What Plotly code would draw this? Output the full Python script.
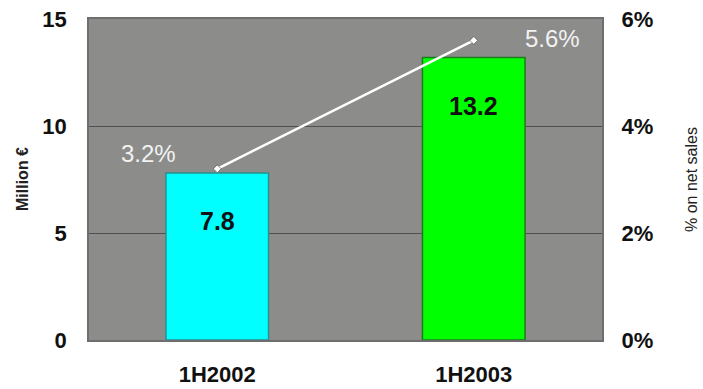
import plotly.graph_objects as go

categories = ["1H2002", "1H2003"]
sales_values = [7.8, 13.2]
pct_values = [3.2, 5.6]
bar_colors = ["#00ffff", "#00ff00"]
bar_edges = ["#2a8f8f", "#1f7a1f"]
y_ticks = [0, 5, 10, 15]
y2_ticks = [0, 2, 4, 6]
y2_labels = ["0%", "2%", "4%", "6%"]

fig = go.Figure()
fig.add_trace(go.Bar(
    x=categories, y=sales_values,
    marker=dict(color=bar_colors, line=dict(color=bar_edges, width=1.5)),
    showlegend=False, hoverinfo="skip"))
fig.add_trace(go.Scatter(
    x=categories, y=pct_values, yaxis="y2", mode="lines+markers",
    line=dict(color="white", width=2.5),
    marker=dict(symbol="diamond", size=6, color="white", line=dict(color="#333", width=0.5)),
    showlegend=False, hoverinfo="skip"))

annotations = []
for c, v in zip(categories, sales_values):
    annotations.append(dict(x=c, y=v, xref="x", yref="y", text=f"<b>{v}</b>",
                            showarrow=False, yanchor="top", yshift=-32,
                            font=dict(family="Arial, Liberation Sans", size=25, color="#111")))
shifts = [(-69, 15), (79, 2)]
for c, v, (dx, dy) in zip(categories, pct_values, shifts):
    annotations.append(dict(x=c, y=v, xref="x", yref="y2", text=f"{v}%",
                            showarrow=False, xshift=dx, yshift=dy,
                            font=dict(family="Arial, Liberation Sans", size=24, color="#f2f2f2")))
annotations.append(dict(x=0, y=0.5, xref="paper", yref="paper", xshift=-77,
                        text="<b>Million €</b>", textangle=-90, showarrow=False,
                        font=dict(family="Arial, Liberation Sans", size=16, color="#222")))
annotations.append(dict(x=1, y=0.5, xref="paper", yref="paper", xshift=100,
                        text="% on net sales", textangle=-90, showarrow=False,
                        font=dict(family="Arial, Liberation Sans", size=16, color="#222")))

tickfont = dict(family="Arial, Liberation Sans", size=22, color="#111", weight="bold")
fig.update_layout(
    width=703, height=389,
    margin=dict(l=89, r=101, t=19, b=49, autoexpand=False),
    paper_bgcolor="white", plot_bgcolor="#8c8c8a",
    bargap=0.6,
    xaxis=dict(tickfont=tickfont, showline=True, linecolor="#6e6e6e", linewidth=1.5,
               mirror=True, ticks="outside", ticklen=14, tickcolor="rgba(0,0,0,0)",
               automargin=False),
    yaxis=dict(range=[0, 15], tickvals=y_ticks, tickfont=tickfont,
               showgrid=True, gridcolor="#505050", gridwidth=1, zeroline=False,
               showline=True, linecolor="#6e6e6e", linewidth=1.5, mirror=True,
               ticks="outside", ticklen=16, tickcolor="rgba(0,0,0,0)", automargin=False),
    yaxis2=dict(range=[0, 6], tickvals=y2_ticks, ticktext=y2_labels, overlaying="y",
                side="right", tickfont=tickfont, showgrid=False,
                zeroline=False, ticks="outside", ticklen=14, tickcolor="rgba(0,0,0,0)",
                automargin=False),
    annotations=annotations,
)
fig.write_html("out.html")
